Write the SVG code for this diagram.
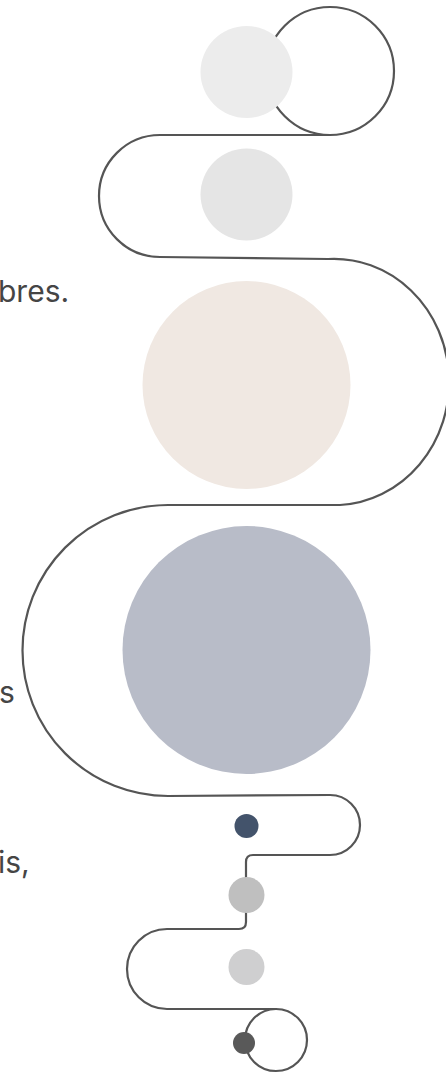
<svg xmlns="http://www.w3.org/2000/svg" width="446" height="1073" viewBox="0 0 446 1073">
<style>
.c{fill:none;stroke:#555555;stroke-width:2.2;stroke-linecap:round;stroke-linejoin:round}
.t{font-family:Inter,"Liberation Sans",sans-serif;font-size:30px;fill:#454545}
</style>
<rect width="446" height="1073" fill="#ffffff"/>
<g id="connectors">
<circle class="c" cx="330" cy="71" r="64"/>
<path class="c" d="M330,135 L160,135 A61,61 0 0 0 160,257 L328,259 A115,123 0 0 1 340,505 L168,505 A145.5,145.5 0 0 0 168,796 L330,795 A30,30 0 0 1 330,855 L253,855 Q246,855 246,862 L246,922 Q246,929 239,929 L167,929 A40,40 0 0 0 167,1009 L276,1009"/>
<circle class="c" cx="276" cy="1040" r="31"/>
</g>
<g id="node1"><circle cx="246.5" cy="72" r="46" fill="#ececec"/></g>
<g id="node2"><circle cx="246.5" cy="194.5" r="46" fill="#e5e5e5"/></g>
<g id="node3"><circle cx="246.5" cy="385" r="104" fill="#f0e8e2"/></g>
<g id="node4"><circle cx="246.5" cy="650" r="124" fill="#b8bcc8"/></g>
<g id="node5"><circle cx="246.5" cy="826" r="12" fill="#43536b"/></g>
<g id="node6"><circle cx="246.5" cy="895" r="18" fill="#bfbfbf"/></g>
<g id="node7"><circle cx="246.5" cy="967" r="18" fill="#cfcfd0"/></g>
<g id="node8"><circle cx="244" cy="1043" r="11" fill="#595959"/></g>
<g id="labels">
<text class="t" x="-2" y="302">bres.</text>
<text class="t" x="-1" y="703">s</text>
<text class="t" x="-2" y="873">is,</text>
</g>
</svg>
